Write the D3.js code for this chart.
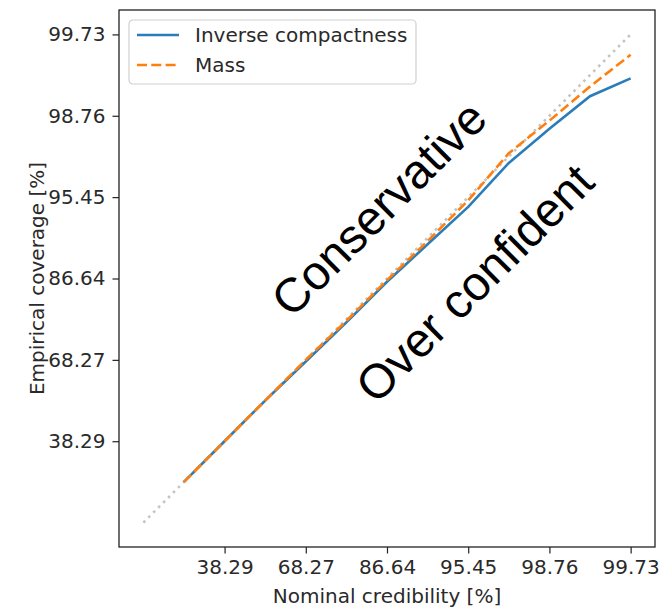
<!DOCTYPE html>
<html>
<head>
<meta charset="utf-8">
<script src="https://cdn.jsdelivr.net/npm/d3@7"></script>
<style>
  body { margin: 0; background: #fff; }
  svg { display: block; }
  text { font-family: "DejaVu Sans", sans-serif; }
</style>
</head>
<body>
<div id="chart"></div>
<script>
// nominal credibility levels, in sigma units
var nominal_sigma = [0.25, 0.5, 0.75, 1.0, 1.25, 1.5, 1.75, 2.0, 2.25, 2.5, 2.75, 3.0];
// empirical coverage, in sigma units
var inverse_compactness = [0.25, 0.50, 0.75, 0.99, 1.23, 1.48, 1.71, 1.94, 2.21, 2.42, 2.62, 2.73];
var mass = [0.25, 0.50, 0.75, 1.00, 1.24, 1.49, 1.73, 1.98, 2.27, 2.47, 2.68, 2.875];
// diagonal reference
var diag = [0, 3];
// tick positions (sigma) and their labels (%)
var tick_sigma = [0.5, 1.0, 1.5, 2.0, 2.5, 3.0];
var tick_labels = ["38.29", "68.27", "86.64", "95.45", "98.76", "99.73"];

var margin = { top: 10, right: 8, bottom: 62, left: 119 },
    W = 663, H = 609,
    width = W - margin.left - margin.right,
    height = H - margin.top - margin.bottom;

var svg = d3.select("#chart")
    .append("svg")
    .attr("width", W)
    .attr("height", H)
    .append("g")
    .attr("transform", "translate(" + margin.left + "," + margin.top + ")");

var x = d3.scaleLinear().domain([-0.15, 3.15]).range([0, width]);
var y = d3.scaleLinear().domain([-0.15, 3.15]).range([height, 0]);

var line = d3.line()
    .x(function(d) { return x(d[0]); })
    .y(function(d) { return y(d[1]); });

// dotted diagonal
svg.append("path")
    .datum(diag.map(function(v) { return [v, v]; }))
    .attr("d", line)
    .attr("fill", "none")
    .attr("stroke", "#c4c4c4")
    .attr("stroke-width", 2.6)
    .attr("stroke-dasharray", "2.6,4.4");

var series = [
    { name: "Inverse compactness", values: inverse_compactness, color: "#2a7db8", dash: null },
    { name: "Mass", values: mass, color: "#ff7f0e", dash: "10,4.3" }
];

series.forEach(function(s) {
    svg.append("path")
        .datum(nominal_sigma.map(function(v, i) { return [v, s.values[i]]; }))
        .attr("d", line)
        .attr("fill", "none")
        .attr("stroke", s.color)
        .attr("stroke-width", 2.6)
        .attr("stroke-dasharray", s.dash);
});

// annotations
var notes = [
    { text: "Conservative", x: 1.45, y: 1.93 },
    { text: "Over confident", x: 2.04, y: 1.47 }
];
svg.selectAll("text.note")
    .data(notes)
    .enter()
    .append("text")
    .attr("class", "note")
    .attr("transform", function(d) {
        return "translate(" + x(d.x) + "," + y(d.y) + ") rotate(-45)";
    })
    .attr("text-anchor", "middle")
    .attr("dominant-baseline", "central")
    .style("font-family", "'Liberation Sans', Arial, sans-serif")
    .style("font-size", "48px")
    .attr("fill", "#000")
    .text(function(d) { return d.text; });

// axes
var xAxis = svg.append("g")
    .attr("transform", "translate(0," + height + ")")
    .call(d3.axisBottom(x).tickValues(tick_sigma)
        .tickFormat(function(d, i) { return tick_labels[i]; })
        .tickSize(6.5).tickPadding(6));
var yAxis = svg.append("g")
    .call(d3.axisLeft(y).tickValues(tick_sigma)
        .tickFormat(function(d, i) { return tick_labels[i]; })
        .tickSize(6.5).tickPadding(7));
[xAxis, yAxis].forEach(function(a) {
    a.select(".domain").remove();
    a.selectAll(".tick line").attr("stroke", "#222").attr("stroke-width", 1.2);
    a.selectAll(".tick text")
        .attr("fill", "#2a2a2a")
        .style("font-family", "'DejaVu Sans', sans-serif")
        .style("font-size", "20px");
});

// frame
svg.append("rect")
    .attr("x", 0).attr("y", 0)
    .attr("width", width).attr("height", height)
    .attr("fill", "none")
    .attr("stroke", "#222")
    .attr("stroke-width", 1.3);

// axis labels
svg.append("text")
    .attr("x", width / 2)
    .attr("y", height + 56)
    .attr("text-anchor", "middle")
    .attr("fill", "#2a2a2a")
    .style("font-size", "20px")
    .text("Nominal credibility [%]");

svg.append("text")
    .attr("transform", "translate(" + (44 - margin.left) + "," + (height / 2) + ") rotate(-90)")
    .attr("text-anchor", "middle")
    .attr("fill", "#2a2a2a")
    .style("font-size", "20px")
    .text("Empirical coverage [%]");

// legend
var legend = svg.append("g").attr("transform", "translate(10,10)");
legend.append("rect")
    .attr("width", 287)
    .attr("height", 64)
    .attr("rx", 4)
    .attr("fill", "#fff")
    .attr("fill-opacity", 0.8)
    .attr("stroke", "#d0d0d0")
    .attr("stroke-width", 1.2);
var items = legend.selectAll("g.item")
    .data(series)
    .enter()
    .append("g")
    .attr("class", "item")
    .attr("transform", function(d, i) { return "translate(8," + (15 + i * 30) + ")"; });
items.append("line")
    .attr("x1", 0).attr("x2", 42)
    .attr("stroke", function(d) { return d.color; })
    .attr("stroke-width", 2.6)
    .attr("stroke-dasharray", function(d) { return d.dash; });
items.append("text")
    .attr("x", 58)
    .attr("dy", "0.35em")
    .attr("fill", "#2a2a2a")
    .style("font-size", "20px")
    .text(function(d) { return d.name; });
</script>
</body>
</html>
